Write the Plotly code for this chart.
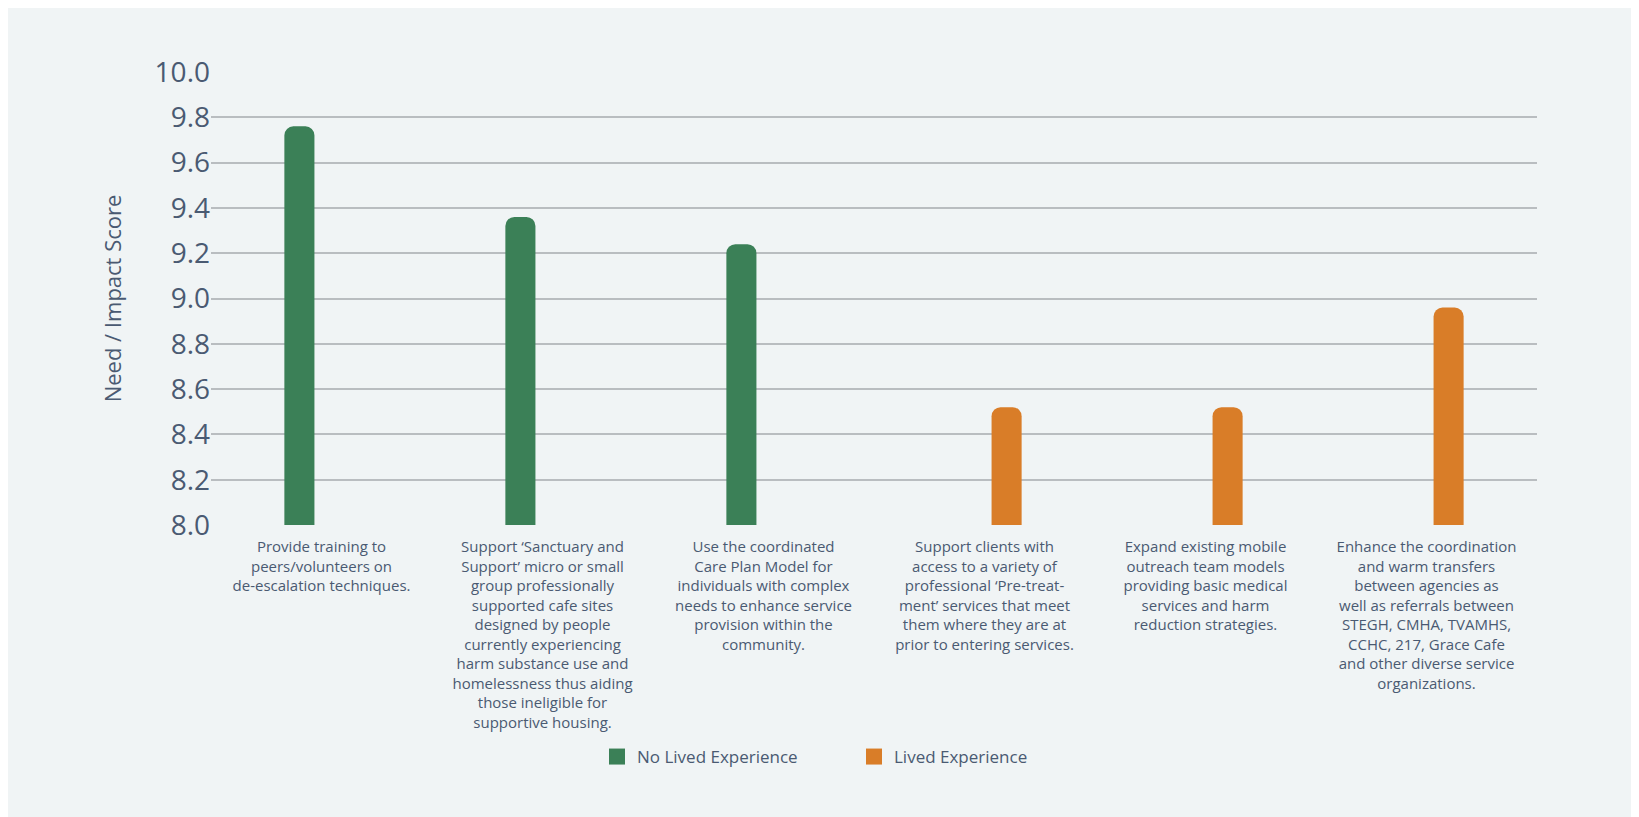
import plotly.graph_objects as go

categories = [
    "Provide training to<br>peers/volunteers on<br>de-escalation techniques.",
    "Support ‘Sanctuary and<br>Support’ micro or small<br>group professionally<br>supported cafe sites<br>designed by people<br>currently experiencing<br>harm substance use and<br>homelessness thus aiding<br>those ineligible for<br>supportive housing.",
    "Use the coordinated<br>Care Plan Model for<br>individuals with complex<br>needs to enhance service<br>provision within the<br>community.",
    "Support clients with<br>access to a variety of<br>professional ‘Pre-treat-<br>ment’ services that meet<br>them where they are at<br>prior to entering services.",
    "Expand existing mobile<br>outreach team models<br>providing basic medical<br>services and harm<br>reduction strategies.",
    "Enhance the coordination<br>and warm transfers<br>between agencies as<br>well as referrals between<br>STEGH, CMHA, TVAMHS,<br>CCHC, 217, Grace Cafe<br>and other diverse service<br>organizations.",
]
no_lived = [9.76, 9.36, 9.24, None, None, None]
lived = [None, None, None, 8.52, 8.52, 8.96]
series_names = ["No Lived Experience", "Lived Experience"]
tick_vals = [8.0, 8.2, 8.4, 8.6, 8.8, 9.0, 9.2, 9.4, 9.6, 9.8, 10.0]

GREEN = "#3b8057"
ORANGE = "#d97d28"
TEXT = "#4a5a72"
PANEL = "#f0f4f5"
FONT = "Open Sans"

W, H = 1639, 817
OFF = 8  # page body offset
ML, MR, MT, MB = 211 - OFF, 102 + OFF, 72 - OFF, 292 + OFF

fig = go.Figure()
fig.add_trace(go.Bar(x=categories, y=no_lived, name=series_names[0],
                     marker=dict(color=GREEN, line=dict(width=0)), showlegend=False))
fig.add_trace(go.Bar(x=categories, y=lived, name=series_names[1],
                     marker=dict(color=ORANGE, line=dict(width=0)), showlegend=False))
# legend entries
for nm, col in zip(series_names, [GREEN, ORANGE]):
    fig.add_trace(go.Scatter(x=[None], y=[None], mode="markers", name=nm,
                             marker=dict(symbol="square", size=16, color=col)))

fig.update_layout(
    width=W, height=H,
    margin=dict(l=ML, r=MR, t=MT, b=MB, autoexpand=False),
    paper_bgcolor=PANEL, plot_bgcolor=PANEL,
    barmode="group", bargap=0.6, bargroupgap=0.32,
    barcornerradius=9,
    font=dict(family=FONT, color=TEXT),
    legend=dict(orientation="h", xref="container", yref="container",
                x=(597 - OFF) / W, xanchor="left", y=1 - (757 - OFF) / H, yanchor="middle",
                font=dict(size=17, color=TEXT, family=FONT),
                entrywidth=212, entrywidthmode="pixels",
                bgcolor="rgba(0,0,0,0)"),
    xaxis=dict(showgrid=False, showline=False, zeroline=False, automargin=False,
               tickfont=dict(size=15, color=TEXT, family=FONT),
               ticks="", tickangle=0, ticklabelstandoff=11),
    yaxis=dict(range=[8.0, 10.0], tickvals=tick_vals, tickformat=".1f",
               showgrid=True, gridcolor="#b9bdc0", gridwidth=2, automargin=False,
               zeroline=False, showline=False, ticks="",
               tickfont=dict(size=28, color=TEXT, family=FONT),
               title=dict(text="Need / Impact Score", standoff=26,
                          font=dict(size=22, color=TEXT, family=FONT))),
)

fig.write_html("out.html")
